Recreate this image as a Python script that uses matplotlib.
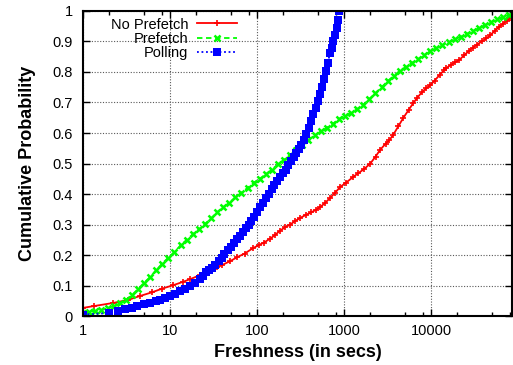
import numpy as np
import matplotlib
matplotlib.use("Agg")
import matplotlib.pyplot as plt
from matplotlib.ticker import FixedLocator, NullFormatter

plt.rcParams['font.family'] = ['Liberation Sans', 'DejaVu Sans']

# values (freshness in secs, cumulative probability)
no_prefetch_x = [1, 1.34, 2.21, 3.29, 4.52, 6.2, 8.1, 10.8, 14, 17, 22, 27, 35, 40, 49, 59, 72,
                 89, 105, 120, 140, 160, 183, 210, 240, 275, 310, 360, 420, 480, 530, 600, 690,
                 780, 900, 1050, 1270, 1450, 1700, 2000, 2300, 2600, 3000, 3300, 3650, 4200,
                 4800, 5500, 6200, 6900, 7800, 8800, 9800, 11000, 12500, 14000, 15000, 17000,
                 19000, 21000, 24000, 27000, 30000, 34000, 38000, 43000, 48000, 54000, 60000,
                 67000, 74000, 81000]
no_prefetch_y = [0.027, 0.033, 0.043, 0.053, 0.066, 0.078, 0.09, 0.101, 0.112, 0.121, 0.134,
                 0.145, 0.16, 0.168, 0.18, 0.193, 0.205, 0.222, 0.233, 0.241, 0.253, 0.265,
                 0.28, 0.291, 0.3, 0.312, 0.321, 0.331, 0.34, 0.349, 0.357, 0.37, 0.387, 0.403,
                 0.423, 0.437, 0.456, 0.468, 0.482, 0.5, 0.523, 0.545, 0.565, 0.576, 0.593,
                 0.622, 0.65, 0.675, 0.697, 0.715, 0.733, 0.747, 0.757, 0.772, 0.79, 0.805,
                 0.813, 0.824, 0.832, 0.839, 0.855, 0.868, 0.879, 0.89, 0.9, 0.91, 0.921,
                 0.935, 0.947, 0.958, 0.967, 0.977]

prefetch_x = [1, 1.18, 1.38, 1.62, 1.91, 2.24, 2.63, 3.09, 3.63, 4.27, 5.0, 5.9, 6.9, 8.1, 9.5,
              11.2, 13.2, 15.5, 18.2, 21.4, 25.1, 29.5, 34.7, 40.7, 47.9, 56.2, 66.1, 77.6,
              91.2, 107, 126, 148, 174, 204, 240, 282, 331, 389, 457, 537, 631, 741, 871,
              1023, 1202, 1413, 1660, 1950, 2291, 2692, 3162, 3715, 4365, 5129, 6026, 7079,
              8318, 9772, 11482, 13490, 15849, 18621, 21878, 25704, 30200, 35481, 41687,
              48978, 57544, 67608, 79433]
prefetch_y = [0.01, 0.013, 0.016, 0.02, 0.026, 0.033, 0.042, 0.053, 0.069, 0.088, 0.109,
              0.128, 0.15, 0.172, 0.191, 0.21, 0.232, 0.25, 0.268, 0.284, 0.302, 0.32, 0.34,
              0.356, 0.372, 0.389, 0.405, 0.42, 0.437, 0.45, 0.465, 0.48, 0.498, 0.513, 0.528,
              0.545, 0.561, 0.578, 0.592, 0.605, 0.617, 0.63, 0.646, 0.657, 0.667, 0.678,
              0.693, 0.712, 0.73, 0.75, 0.77, 0.787, 0.804, 0.817, 0.83, 0.842, 0.855, 0.868,
              0.878, 0.888, 0.897, 0.907, 0.916, 0.925, 0.934, 0.944, 0.954, 0.963, 0.972,
              0.98, 0.987]

polling_x = [1, 2, 2.5, 3, 3.6, 4.2, 5, 5.9, 6.8, 7.7, 8.8, 10, 11.5, 13, 15, 17, 19.5, 22,
             24, 26, 28, 30, 33, 36, 39, 42, 46, 50, 54, 58, 63, 68, 74, 80, 86, 93, 100, 108,
             117, 126, 136, 147, 158, 170, 183, 197, 212, 228, 245, 263, 282, 302, 323, 345,
             368, 392, 417, 443, 470, 498, 527, 557, 588, 620, 652, 685, 718, 752, 786, 820,
             852, 880]
polling_y = [0.005, 0.01, 0.016, 0.023, 0.028, 0.033, 0.038, 0.043, 0.048, 0.052, 0.059,
             0.066, 0.074, 0.082, 0.09, 0.098, 0.11, 0.121, 0.132, 0.143, 0.15, 0.158, 0.168,
             0.18, 0.192, 0.202, 0.215, 0.228, 0.24, 0.252, 0.264, 0.276, 0.288, 0.299,
             0.311, 0.325, 0.34, 0.357, 0.372, 0.386, 0.4, 0.415, 0.428, 0.442, 0.455, 0.468,
             0.48, 0.494, 0.508, 0.521, 0.535, 0.548, 0.561, 0.578, 0.597, 0.617, 0.638,
             0.661, 0.683, 0.705, 0.727, 0.75, 0.776, 0.804, 0.83, 0.862, 0.88, 0.9, 0.921,
             0.945, 0.97, 1.0]

x_ticks = [1, 10, 100, 1000, 10000]
y_ticks = [0, 0.1, 0.2, 0.3, 0.4, 0.5, 0.6, 0.7, 0.8, 0.9, 1]
y_tick_labels = ["0", "0.1", "0.2", "0.3", "0.4", "0.5", "0.6", "0.7", "0.8", "0.9", "1"]

fig = plt.figure(figsize=(5.13, 3.65), dpi=100)
ax = fig.add_axes([0.162, 0.134, 0.836, 0.836])

ax.plot(no_prefetch_x, no_prefetch_y, color="#ff0000", lw=1.3, ls="-",
        marker="+", ms=5, mew=1.2, label="No Prefetch")
ax.plot(prefetch_x, prefetch_y, color="#00ff00", lw=1.3, ls=(0, (3, 2)),
        marker="x", ms=5, mew=1.8, label="Prefetch")
ax.plot(polling_x, polling_y, color="#0000ff", lw=1.3, ls=(0, (1, 1.5)),
        marker="s", ms=6, mew=0, label="Polling")

ax.set_xscale("log")
ax.set_xlim(1, 85000)
ax.set_ylim(0, 1)
ax.set_xticks(x_ticks)
ax.set_xticklabels([str(t) for t in x_ticks])
minors = [m * 10 ** e for e in range(0, 5) for m in (2, 5, 8) if m * 10 ** e < 85000]
ax.xaxis.set_minor_locator(FixedLocator(minors))
ax.xaxis.set_minor_formatter(NullFormatter())
ax.set_yticks(y_ticks)
ax.set_yticklabels(y_tick_labels)

ax.tick_params(which="both", direction="in", top=True, right=True, labelsize=10.5)
ax.tick_params(axis="x", pad=6)
ax.tick_params(axis="y", pad=7.5)
ax.tick_params(which="major", length=5, width=1)
ax.tick_params(which="minor", length=3, width=1)
ax.grid(True, which="major", ls=(0, (1, 1.5)), color="0.35", lw=0.8)
for s in ax.spines.values():
    s.set_linewidth(1.5)

ax.set_xlabel("Freshness (in secs)", fontsize=13, fontweight="bold", labelpad=4)
ax.set_ylabel("Cumulative Probability", fontsize=13, fontweight="bold", labelpad=12)

ax.legend(loc="upper right", bbox_to_anchor=(0.374, 1.0), frameon=False, markerfirst=False,
          fontsize=10.5, handlelength=2.75, handletextpad=0.6, labelspacing=0.02,
          borderaxespad=0.05)

fig.savefig("out.png", dpi=100)
